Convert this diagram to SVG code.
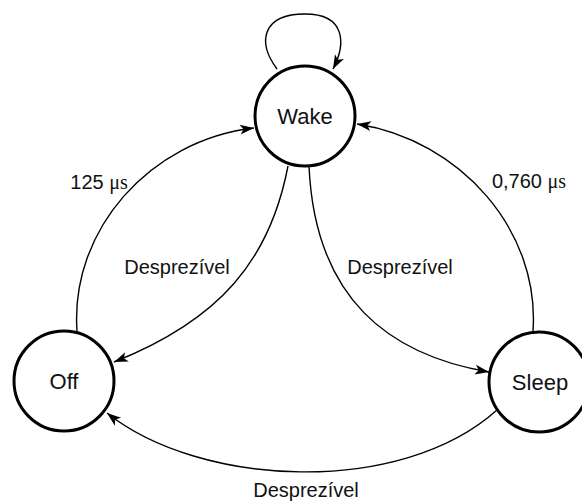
<svg xmlns="http://www.w3.org/2000/svg" width="582" height="503" viewBox="0 0 582 503">
  <style>
    .state circle { fill: #ffffff; stroke: #000000; stroke-width: 3; }
    .state text { font-family: "Liberation Sans", Arial, sans-serif; font-size: 22px; fill: #111111; text-anchor: middle; }
    .edge { fill: none; stroke: #000000; stroke-width: 1.4; marker-end: url(#arrow); }
    .label { font-family: "Liberation Sans", Arial, sans-serif; font-size: 20px; fill: #111111; text-anchor: middle; }
    .unit { font-family: "Liberation Serif", "Times New Roman", serif; }
  </style>
  <defs>
    <marker id="arrow" markerUnits="userSpaceOnUse" markerWidth="16" markerHeight="12" refX="14" refY="5" orient="auto" overflow="visible">
      <path d="M0,0 L14,5 L0,10 L3.5,5 z" fill="#000000"/>
    </marker>
  </defs>

  <!-- transitions -->
  <g id="connectors">
    <!-- Wake self loop -->
    <path class="edge" d="M277,69 C257,42 262,14 305,14 C346,14 346,44 333,69"/>
    <!-- Off -> Wake -->
    <path class="edge" d="M77,331 C70,230 150,140 254,128"/>
    <!-- Wake -> Off -->
    <path class="edge" d="M288,166 C270,260 220,320 114,362"/>
    <!-- Wake -> Sleep -->
    <path class="edge" d="M309,166 C315,300 390,355 489,372"/>
    <!-- Sleep -> Wake -->
    <path class="edge" d="M533,331 C540,230 460,140 357,124"/>
    <!-- Sleep -> Off -->
    <path class="edge" d="M497,410 C400,497 200,487 107,413"/>

    <text class="label" x="99" y="189">125 <tspan class="unit">μs</tspan></text>
    <text class="label" x="529" y="188">0,760 <tspan class="unit">μs</tspan></text>
    <text class="label" x="177" y="274">Desprezível</text>
    <text class="label" x="400" y="274">Desprezível</text>
    <text class="label" x="306" y="497">Desprezível</text>
  </g>

  <!-- states -->
  <g id="wake" class="state">
    <circle cx="305" cy="116" r="50"/>
    <text x="305" y="124">Wake</text>
  </g>
  <g id="off" class="state">
    <circle cx="64" cy="381" r="50"/>
    <text x="64" y="389">Off</text>
  </g>
  <g id="sleep" class="state">
    <circle cx="539" cy="382" r="50"/>
    <text x="540" y="390">Sleep</text>
  </g>
</svg>
